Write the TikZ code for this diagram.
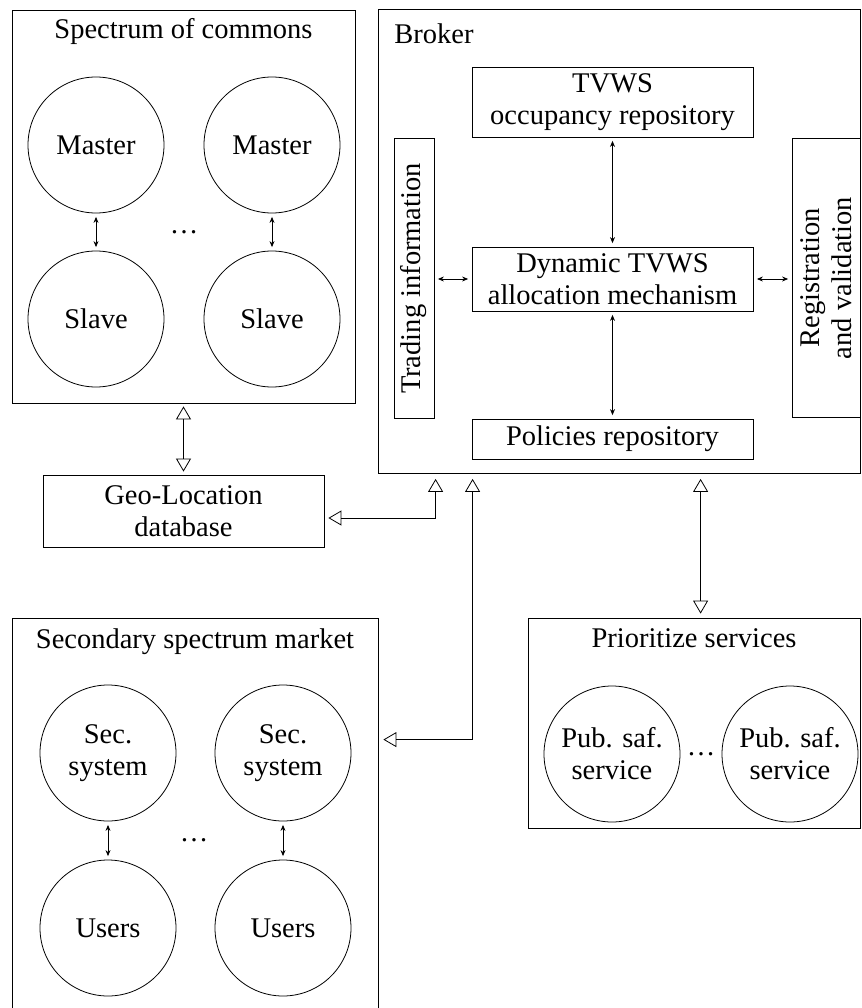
\documentclass[tikz,border=0pt]{standalone}
\usepackage{fontspec}
\setmainfont{Liberation Serif}
\usetikzlibrary{arrows.meta,calc}
\begin{document}
\begin{tikzpicture}[x=1pt,y=-1pt,
  font=\fontsize{28.5}{32}\selectfont,
  line width=0.8pt,
  box/.style={draw, rectangle, inner sep=0pt, align=center},
  circ/.style={draw, circle, minimum size=136pt, inner sep=0pt, align=center},
  sa/.style={{Stealth[length=6pt,width=5pt,inset=2pt]}-{Stealth[length=6pt,width=5pt,inset=2pt]}, shorten <=3.5pt, shorten >=3.5pt},
  ta/.style={{Triangle[open,length=13pt,width=15pt]}-{Triangle[open,length=13pt,width=15pt]}}]
\useasboundingbox (0,0) rectangle (861,1008);
\clip (0,0) rectangle (861,1008);

% Spectrum of commons
\node[box, minimum width=343pt, minimum height=393pt] (soc) at (183.5,206.5) {};
\node[anchor=base] (soct) at (183.5,39) {Spectrum of commons};
\node[circ] (m1) at (96,145) {Master};
\node[circ] (m2) at (272,145) {Master};
\node[circ] (s1) at (96,319) {Slave};
\node[circ] (s2) at (272,319) {Slave};
\node[inner sep=0pt] (socd) at (184,232) {\ldots};
\draw[sa] (m1) -- (s1);
\draw[sa] (m2) -- (s2);

% Broker
\node[box, minimum width=482pt, minimum height=464pt] (broker) at (619,241.5) {};
\node[anchor=base west, inner sep=0pt] (brokert) at (394,44) {Broker};
\node[box, minimum width=281pt, minimum height=70pt] (tvws) at (612.5,102) {TVWS\\occupancy repository};
\node[box, minimum width=281pt, minimum height=64pt] (dyn) at (612.5,279) {Dynamic TVWS\\allocation mechanism};
\node[box, minimum width=281pt, minimum height=40pt] (pol) at (612.5,439) {Policies repository};
\node[box, minimum width=40pt, minimum height=280pt] (trade) at (414,278.5) {};
\node[rotate=90] (tradet) at (trade.center) {Trading information};
\node[box, minimum width=68pt, minimum height=279pt] (reg) at (826,278) {};
\node[rotate=90, align=center] (regt) at (reg.center) {Registration\\and validation};
\draw[sa] (tvws) -- (dyn);
\draw[sa] (dyn) -- (pol);
\draw[sa] (trade.east |- dyn.west) -- (dyn.west);
\draw[sa] (dyn.east) -- (dyn.east -| reg.west);

% Geo-Location database
\node[box, minimum width=281pt, minimum height=72pt] (geo) at (183.5,511) {Geo-Location\\database};

% Secondary spectrum market
\node[box, minimum width=366pt, minimum height=400pt] (ssm) at (195,818) {};
\node[anchor=base] (ssmt) at (195,648) {Secondary spectrum market};
\node[circ] (sec1) at (108,753) {Sec.\\system};
\node[circ] (sec2) at (283,753) {Sec.\\system};
\node[circ] (u1) at (108,928) {Users};
\node[circ] (u2) at (283,928) {Users};
\node[inner sep=0pt] (ssmd) at (194,840) {\ldots};
\draw[sa] (sec1) -- (u1);
\draw[sa] (sec2) -- (u2);

% Prioritize services
\node[box, minimum width=332pt, minimum height=210pt] (prio) at (694,723) {};
\node[anchor=base] (priot) at (694,647) {Prioritize services};
\node[circ] (p1) at (612,754) {Pub. saf.\\service};
\node[circ] (p2) at (790,754) {Pub. saf.\\service};
\node[inner sep=0pt] (priod) at (701,754) {\ldots};

% Connections
\draw[ta, shorten <=3pt, shorten >=3pt] (soc.south) -- (soc.south |- geo.north);
\draw[ta, shorten <=4pt, shorten >=5pt] ($(geo.east)+(0,7)$) -| ($(broker.south west)+(58,0)$);
\draw[ta, shorten <=5pt, shorten >=5pt] ($(broker.south west)+(95,0)$) |- ($(ssm.north east)+(0,122)$);
\draw[ta, shorten <=5pt, shorten >=4pt] ($(broker.south west)+(323,0)$) -- ($(prio.north west)+(173,0)$);
\end{tikzpicture}
\end{document}
